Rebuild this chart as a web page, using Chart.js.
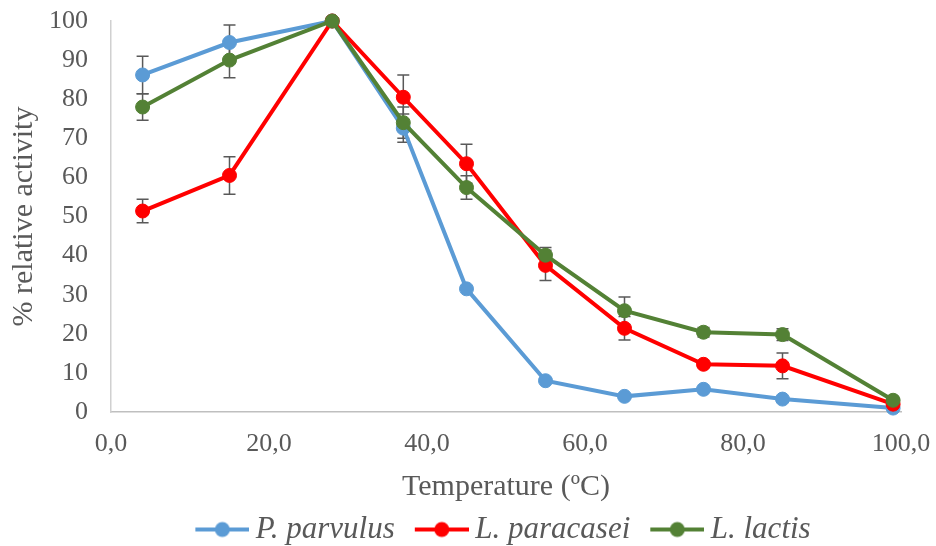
<!DOCTYPE html>
<html>
<head>
<meta charset="utf-8">
<script src="https://cdn.jsdelivr.net/npm/chart.js@4/dist/chart.umd.min.js"></script>
<style>
  html, body { margin: 0; padding: 0; background: #ffffff; }
  #wrap { width: 936px; height: 546px; }
</style>
</head>
<body>
<div id="wrap"><canvas id="c" width="936" height="546"></canvas></div>
<script>
// ---- data ----
const temperatures = [4, 15, 28, 37, 45, 55, 65, 75, 85, 99];
const seriesNames = ['P. parvulus', 'L. paracasei', 'L. lactis'];
const parvulus = [86.2, 94.5, 100, 72.6, 31.5, 8.0, 4.0, 5.8, 3.3, 1.0];
const parvulusErr = [4.8, 4.5, 0, 3.6, 0, 0, 0, 0, 0, 0];
const paracasei = [51.4, 60.5, 100, 80.5, 63.5, 37.5, 21.4, 12.2, 11.8, 2.0];
const paracaseiErr = [3.0, 4.8, 0, 5.7, 5.0, 3.9, 3.0, 0.8, 3.3, 0.5];
const lactis = [78.0, 90.0, 100, 74.0, 57.4, 40.1, 25.9, 20.4, 19.8, 3.0];
const lactisErr = [3.4, 4.5, 0, 4.0, 3.0, 2.0, 3.5, 1.2, 1.5, 0.8];
const xTickLabels = ['0,0', '20,0', '40,0', '60,0', '80,0', '100,0'];
const yTickLabels = ['0', '10', '20', '30', '40', '50', '60', '70', '80', '90', '100'];

const colors = ['#5B9BD5', '#FF0000', '#538135'];
const FONT = "'Liberation Serif', 'Times New Roman', serif";
const TEXT = '#595959';

function legendImage(color) {
  const c = document.createElement('canvas');
  c.width = 73; c.height = 20;
  const g = c.getContext('2d');
  g.strokeStyle = color; g.lineWidth = 4; g.lineCap = 'butt';
  g.beginPath(); g.moveTo(19, 10); g.lineTo(73, 10); g.stroke();
  g.fillStyle = color;
  g.beginPath(); g.arc(46, 10, 7.5, 0, Math.PI * 2); g.fill();
  return c;
}
const legendImages = colors.map(legendImage);

function pts(vals) { return temperatures.map((t, i) => ({ x: t, y: vals[i] })); }
const errs = [parvulusErr, paracaseiErr, lactisErr];

const errorBars = {
  id: 'errorBars',
  afterLayout(chart) {
    if (chart.legend) { chart.legend.left -= 8; chart.legend.right -= 8; }
  },
  beforeDatasetsDraw(chart) {
    const ctx = chart.ctx, xs = chart.scales.x, ys = chart.scales.y;
    ctx.save();
    ctx.strokeStyle = '#595959';
    ctx.lineWidth = 1.5;
    chart.data.datasets.forEach((ds, di) => {
      const e = errs[di];
      ds.data.forEach((p, i) => {
        if (!e[i]) return;
        const px = xs.getPixelForValue(p.x);
        const y1 = ys.getPixelForValue(p.y + e[i]);
        const y2 = ys.getPixelForValue(p.y - e[i]);
        ctx.beginPath();
        ctx.moveTo(px, y1); ctx.lineTo(px, y2);
        ctx.moveTo(px - 6, y1); ctx.lineTo(px + 6, y1);
        ctx.moveTo(px - 6, y2); ctx.lineTo(px + 6, y2);
        ctx.stroke();
      });
    });
    ctx.restore();
  }
};

const seriesVals = [parvulus, paracasei, lactis];
const datasets = seriesVals.map((v, i) => ({
  label: seriesNames[i],
  data: pts(v),
  borderColor: colors[i],
  backgroundColor: colors[i],
  pointBackgroundColor: colors[i],
  pointBorderColor: colors[i],
  borderWidth: 4,
  pointRadius: 7,
  pointBorderWidth: 1,
  pointStyle: 'circle',
  tension: 0,
  clip: false,
  order: 2 - i
}));

new Chart(document.getElementById('c'), {
  type: 'line',
  data: { datasets },
  plugins: [errorBars],
  options: {
    responsive: false,
    animation: false,
    devicePixelRatio: 1,
    layout: { autoPadding: false, padding: { left: 0, top: 21, right: 35, bottom: 0 } },
    plugins: {
      tooltip: { enabled: false },
      legend: {
        position: 'bottom',
        fullSize: false,
        maxHeight: 42,
        labels: {
          usePointStyle: true,
          pointStyleWidth: 55,
          padding: 10,
          color: TEXT,
          font: { family: FONT, size: 31, style: 'italic' },
          sort: (a, b) => a.datasetIndex - b.datasetIndex,
          generateLabels(chart) {
            return chart.data.datasets.map((ds, i) => ({
              text: ds.label,
              fillStyle: colors[i],
              strokeStyle: colors[i],
              fontColor: TEXT,
              pointStyle: legendImages[i],
              lineWidth: 0,
              hidden: false,
              datasetIndex: i
            }));
          }
        }
      }
    },
    scales: {
      x: {
        type: 'linear',
        min: 0, max: 100,
        afterFit(scale) {
          scale.height = 92;
          scale.paddingLeft = 0; scale.paddingRight = 0;
          scale.paddingTop = 0; scale.paddingBottom = 0;
        },
        ticks: {
          stepSize: 20,
          padding: 17,
          color: TEXT,
          font: { family: FONT, size: 26 },
          callback: (v) => xTickLabels[Math.round(v / 20)]
        },
        grid: { display: false, drawTicks: false },
        border: { display: true, color: '#bfbfbf', width: 1.5 },
        title: {
          display: true,
          text: 'Temperature (ºC)',
          color: TEXT,
          font: { family: FONT, size: 30 },
          padding: { top: 0, bottom: -1 }
        }
      },
      y: {
        min: 0, max: 100,
        afterFit(scale) {
          scale.width = 111;
          scale.paddingLeft = 0; scale.paddingRight = 0;
          scale.paddingTop = 0; scale.paddingBottom = 0;
        },
        ticks: {
          stepSize: 10,
          padding: 23,
          color: TEXT,
          font: { family: FONT, size: 26 },
          callback: (v) => yTickLabels[Math.round(v / 10)]
        },
        grid: { display: false, drawTicks: false },
        border: { display: true, color: '#d0d0d0', width: 1.5 },
        title: {
          display: true,
          text: '% relative activity',
          color: TEXT,
          font: { family: FONT, size: 30 },
          padding: { top: 6, bottom: 0 }
        }
      }
    }
  }
});
</script>
</body>
</html>
